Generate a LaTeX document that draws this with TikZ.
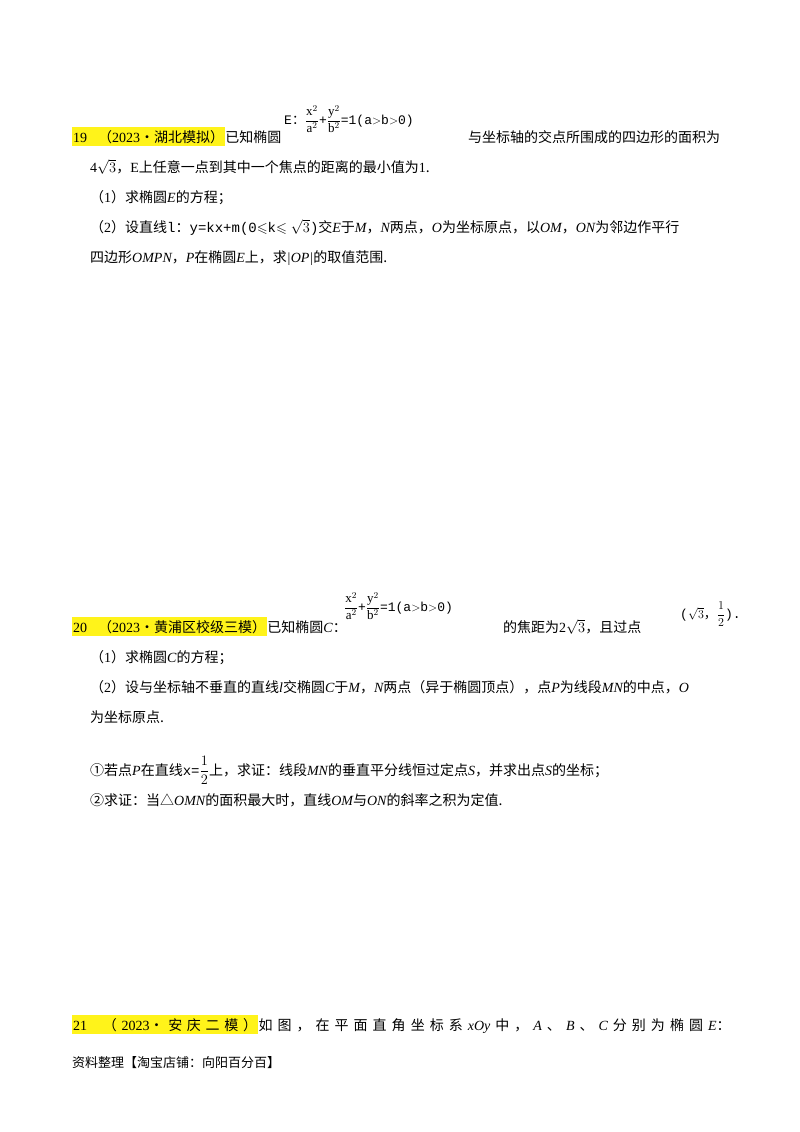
\documentclass[tikz,border=0pt]{standalone}
\usepackage{amsmath,amssymb}
\usepackage{fontspec}
\setmainfont{Liberation Serif}
\newfontfamily\cjk{Noto Sans CJK SC}
\newfontfamily\mono{Liberation Mono}
\newfontfamily\ser{Liberation Serif}
\newcommand{\I}[1]{{\ser\itshape #1}}
\newcommand{\R}[1]{{\ser #1}}
\begin{document}
\begin{tikzpicture}[x=1pt,y=-1pt,
  t/.style={anchor=base west,inner sep=0pt,font=\fontsize{14}{15}\cjk},
  f/.style={anchor=base west,inner sep=0pt,font=\fontsize{13}{14}\mono},
  hl/.style={t,fill=yellow!90!white,inner ysep=3pt,inner xsep=1pt}]
\useasboundingbox (0,0) rectangle (800,1132);
\fill[white] (0,0) rectangle (800,1132);
% problem 19
\node[hl] (h19) at (72,142) {\R{19．}（\R{2023}•湖北模拟）};
\node[t] (a1) at (h19.base east) {已知椭圆};
\node[f] (e1) at (284,124) {E{\cjk：}$\dfrac{\mathrm{x}^2}{\mathrm{a}^2}$+$\dfrac{\mathrm{y}^2}{\mathrm{b}^2}$=1(a$>$b$>$0)};
\node[t] (a2) at (468,142) {与坐标轴的交点所围成的四边形的面积为};
\node[t] (b1) at (90,172) {\R{4$\sqrt{3}$}，\R{E}上任意一点到其中一个焦点的距离的最小值为\R{1}.};
\node[t] (c1) at (90,202) {（\R{1}）求椭圆\I{E}的方程；};
\node[t] (d1) at (90,232) {（\R{2}）设直线{\mono l{\cjk：}y=kx+m(0$\leqslant$k$\leqslant\sqrt{3}$)}交\I{E}于\I{M}，\I{N}两点，\I{O}为坐标原点，以\I{OM}，\I{ON}为邻边作平行};
\node[t] (e2) at (90,262) {四边形\I{OMPN}，\I{P}在椭圆\I{E}上，求\I{|OP|}的取值范围.};
% problem 20
\node[hl] (h20) at (72,632) {\R{20．}（\R{2023}•黄浦区校级三模）};
\node[t] (g1) at (h20.base east) {已知椭圆\I{C}：};
\node[f] (g2) at (344,611) {$\dfrac{\mathrm{x}^2}{\mathrm{a}^2}$+$\dfrac{\mathrm{y}^2}{\mathrm{b}^2}$=1(a$>$b$>$0)};
\node[t] (g3) at (503,632) {的焦距为\R{2$\sqrt{3}$}，且过点};
\node[f] (g4) at (680,618) {($\sqrt{3}${\cjk，}$\dfrac{1}{2}$).};
\node[t] (h1) at (90,662) {（\R{1}）求椭圆\I{C}的方程；};
\node[t] (h2) at (90,692) {（\R{2}）设与坐标轴不垂直的直线\I{l}交椭圆\I{C}于\I{M}，\I{N}两点（异于椭圆顶点），点\I{P}为线段\I{MN}的中点，\I{O}};
\node[t] (h3) at (90,722) {为坐标原点.};
\node[t] (h4) at (90,775) {①若点\I{P}在直线{\mono x=$\dfrac{1}{2}$}上，求证：线段\I{MN}的垂直平分线恒过定点\I{S}，并求出点\I{S}的坐标；};
\node[t] (h5) at (90,805) {②求证：当△\I{OMN}的面积最大时，直线\I{OM}与\I{ON}的斜率之积为定值.};
% problem 21
\node[hl,text width=184pt,align=left] (h21) at (72,1030) {\hbox to 184pt{\R{21．}\hfill（\hfill\R{2023}•\hfill 安\hfill 庆\hfill 二\hfill 模\hfill ）}};
\node[t] (k1) at (h21.base east) {\hbox to 472pt{如\hfill 图\hfill ，\hfill 在\hfill 平\hfill 面\hfill 直\hfill 角\hfill 坐\hfill 标\hfill 系\hfill \I{xOy}\hfill 中\hfill ，\hfill \I{A}\hfill 、\hfill \I{B}\hfill 、\hfill \I{C}\hfill 分\hfill 别\hfill 为\hfill 椭\hfill 圆\hfill \I{E}：}};
\node[t,font=\fontsize{13}{14}\cjk] (k2) at (72,1067) {资料整理【淘宝店铺：向阳百分百】};
\end{tikzpicture}
\end{document}
